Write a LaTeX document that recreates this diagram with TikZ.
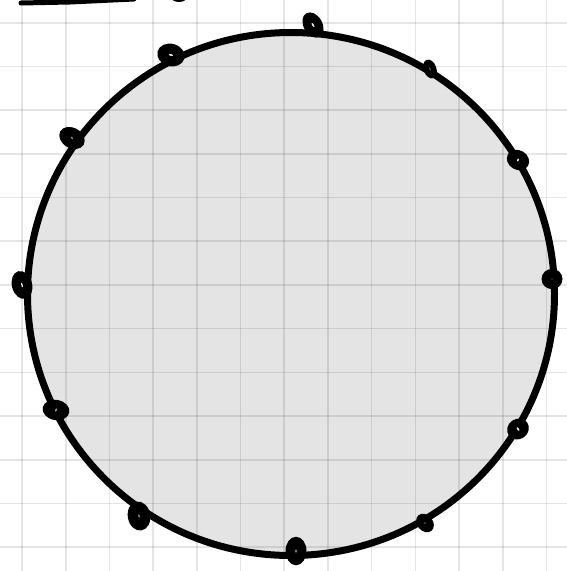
\documentclass[tikz,border=0pt]{standalone}
\begin{document}
\begin{tikzpicture}[x=1pt,y=-1pt,
  gridline/.style={black,opacity=0.10,line width=1.6pt},
  hole/.style={fill=black!8}]
\useasboundingbox (0,0) rectangle (567,571);
\fill[white] (0,0) rectangle (567,571);
% circle
\fill[black!10.5] (291,294) ellipse [x radius=263.5, y radius=261.5];
% grid
\foreach \k in {0,...,12}{
  \draw[gridline] ({22+43.7*\k},0) -- ({22+43.7*\k},571);
  \draw[gridline] (0,{22.7+43.7*\k}) -- (567,{22.7+43.7*\k});
}
\draw[line width=7pt] (291,294) ellipse [x radius=263.5, y radius=261.5];
% loops
\foreach \x/\y/\a/\rx/\ry/\hx/\hy in {313/25/30/12.5/18/1.5/4, 430/69/20/8.5/13/0.8/2.5, 518/160/-30/15.5/13/1.5/3,
  552/279/0/14/13.5/0.6/1, 518/429/35/15/13.5/1.5/3.5, 425/523/40/10.5/13.5/0.6/1.5, 296/551/0/14/19/1/3,
  139/516/10/15/19.5/1/3, 56/410/-10/18/13.5/1.2/3, 22/285/15/13.5/19/1.2/4, 72/138/-30/18/13.5/2/1.2,
  171/55/-15/18.5/15/3.5/1.5}{
  \fill[rotate around={\a:(\x,\y)}] (\x,\y) ellipse [x radius=0.75*\rx, y radius=0.75*\ry];
  \fill[hole,rotate around={\a:(\x,\y)}] (\x,\y) ellipse [x radius=0.6*\hx, y radius=0.6*\hy];
}
% top-left scribble
\draw[line width=5pt,line cap=round] (21,3) -- (70,2) -- (134,-1);
\fill (179,-3) ellipse [x radius=8, y radius=5];
\end{tikzpicture}
\end{document}
